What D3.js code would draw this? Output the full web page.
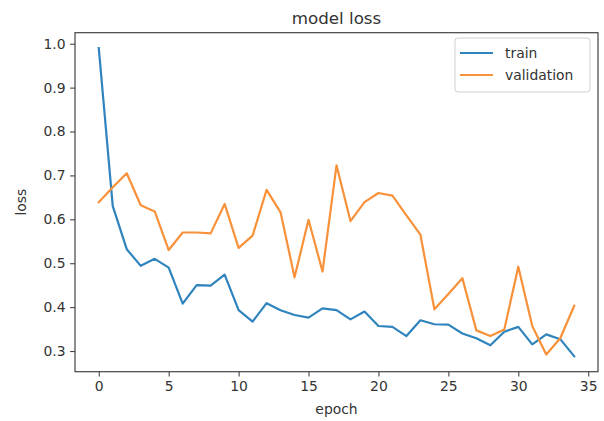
<!DOCTYPE html>
<html>
<head>
<meta charset="utf-8">
<script src="https://cdn.jsdelivr.net/npm/d3@7"></script>
<style>
  body { margin: 0; background: #ffffff; }
  text { font-family: "DejaVu Sans", sans-serif; fill: #333333; }
</style>
</head>
<body>
<svg id="chart" width="604" height="421"></svg>
<script>
// loss values per epoch
let epochs     = d3.range(0, 35);
let trainLoss  = [0.990, 0.630, 0.532, 0.494, 0.510, 0.490, 0.408, 0.450, 0.449, 0.474,
                  0.393, 0.367, 0.409, 0.393, 0.382, 0.376, 0.397, 0.393, 0.372, 0.390,
                  0.357, 0.355, 0.334, 0.370, 0.361, 0.360, 0.340, 0.329, 0.313, 0.344,
                  0.355, 0.315, 0.338, 0.327, 0.288];
let valLoss    = [0.639, 0.673, 0.705, 0.632, 0.618, 0.530, 0.570, 0.570, 0.568, 0.635,
                  0.535, 0.563, 0.667, 0.616, 0.468, 0.599, 0.481, 0.723, 0.596, 0.639,
                  0.660, 0.654, 0.609, 0.565, 0.395, 0.430, 0.466, 0.347, 0.334, 0.349,
                  0.492, 0.357, 0.292, 0.329, 0.403];
let xTicks     = [0, 5, 10, 15, 20, 25, 30, 35];
let yTicks     = [0.3, 0.4, 0.5, 0.6, 0.7, 0.8, 0.9, 1.0];
let seriesNames  = ["train", "validation"];
let seriesColors = ["#2f84bd", "#f7913a"];

let plotL = 75, plotR = 598, plotT = 32.7, plotB = 371.7;

let svg = d3.select("#chart");

let x = d3.scaleLinear().domain([-1.7, 35.7]).range([plotL, plotR]);
let y = d3.scaleLinear().domain([0.2529, 1.0251]).range([plotB, plotT]);

// axes
let xAxis = d3.axisBottom(x).tickValues(xTicks).tickSize(4.9).tickPadding(4.5).tickFormat(d3.format("d"));
let yAxis = d3.axisLeft(y).tickValues(yTicks).tickSize(4.9).tickPadding(4.5).tickFormat(d3.format(".1f"));

let gx = svg.append("g").attr("transform", "translate(0," + plotB + ")").call(xAxis);
let gy = svg.append("g").attr("transform", "translate(" + plotL + ",0)").call(yAxis);

[gx, gy].forEach(g => {
    g.select(".domain").remove();
    g.selectAll(".tick line").attr("stroke", "#444").attr("stroke-width", 1.1);
    g.selectAll(".tick text").style("font-size", "13.9px").attr("fill", "#333");
});

// lines
let lineGen = d3.line().x((d, i) => x(epochs[i])).y(d => y(d));
[trainLoss, valLoss].forEach((s, k) => {
    svg.append("path")
        .datum(s)
        .attr("d", lineGen)
        .attr("fill", "none")
        .attr("stroke", seriesColors[k])
        .attr("stroke-width", 2.2)
        .attr("stroke-linejoin", "round")
        .attr("stroke-linecap", "square");
});

// frame
svg.append("rect")
    .attr("x", plotL).attr("y", plotT)
    .attr("width", plotR - plotL).attr("height", plotB - plotT)
    .attr("fill", "none").attr("stroke", "#444").attr("stroke-width", 1.2);

// title + labels
svg.append("text").attr("x", (plotL + plotR) / 2).attr("y", 24)
    .attr("text-anchor", "middle").style("font-size", "16.7px").text("model loss");
svg.append("text").attr("x", (plotL + plotR) / 2).attr("y", 414)
    .attr("text-anchor", "middle").style("font-size", "13.9px").text("epoch");
svg.append("text")
    .attr("transform", "translate(26," + ((plotT + plotB) / 2) + ") rotate(-90)")
    .attr("text-anchor", "middle").style("font-size", "13.9px").text("loss");

// legend
let lg = svg.append("g").attr("transform", "translate(455,38)");
lg.append("rect").attr("width", 135).attr("height", 54).attr("rx", 3)
    .attr("fill", "#fff").attr("fill-opacity", 0.8)
    .attr("stroke", "#d0d0d0").attr("stroke-width", 1);
seriesNames.forEach((n, k) => {
    let yy = 15 + k * 22;
    lg.append("line").attr("x1", 5).attr("x2", 38).attr("y1", yy).attr("y2", yy)
        .attr("stroke", seriesColors[k]).attr("stroke-width", 2.2);
    lg.append("text").attr("x", 50).attr("y", yy + 5).style("font-size", "13.9px").text(n);
});
</script>
</body>
</html>
